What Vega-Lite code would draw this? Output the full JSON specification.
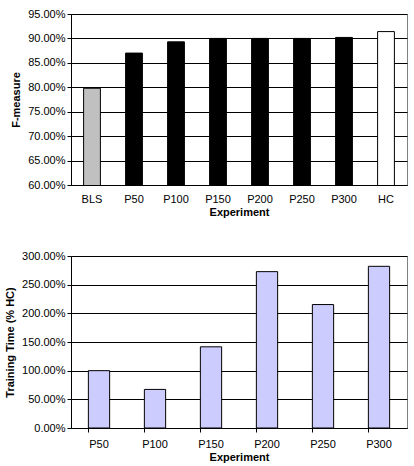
{
  "$schema": "https://vega.github.io/schema/vega-lite/v6.json",
  "padding": {"left": 4, "top": 7, "right": 9, "bottom": 2},
  "spacing": 31,
  "config": {
    "font": "Liberation Sans",
    "view": {"stroke": "#808080", "strokeWidth": 1},
    "axis": {
      "labelFont": "Liberation Sans",
      "titleFont": "Liberation Sans",
      "labelFontSize": 11,
      "titleFontSize": 11,
      "titleFontWeight": "bold",
      "labelColor": "#000000",
      "titleColor": "#000000",
      "domainColor": "#000000",
      "tickColor": "#000000",
      "gridColor": "#000000",
      "gridOpacity": 1,
      "labelOverlap": false
    }
  },
  "vconcat": [
    {
      "width": 336,
      "height": 171,
      "data": {
        "values": [
          {"Experiment": "BLS", "F": 0.798, "Group": "BLS"},
          {"Experiment": "P50", "F": 0.870, "Group": "P"},
          {"Experiment": "P100", "F": 0.893, "Group": "P"},
          {"Experiment": "P150", "F": 0.900, "Group": "P"},
          {"Experiment": "P200", "F": 0.900, "Group": "P"},
          {"Experiment": "P250", "F": 0.900, "Group": "P"},
          {"Experiment": "P300", "F": 0.902, "Group": "P"},
          {"Experiment": "HC", "F": 0.914, "Group": "HC"}
        ]
      },
      "mark": {"type": "bar", "stroke": "#000000", "strokeWidth": 1, "clip": true},
      "encoding": {
        "x": {
          "field": "Experiment", "type": "nominal", "sort": null,
          "scale": {"paddingInner": 0.6, "paddingOuter": 0.3},
          "axis": {"labelAngle": 0, "ticks": false, "title": "Experiment", "titlePadding": 2, "labelPadding": 8}
        },
        "y": {
          "field": "F", "type": "quantitative",
          "scale": {"domain": [0.6, 0.95], "zero": false, "nice": false},
          "axis": {"format": ".2%", "values": [0.6, 0.65, 0.7, 0.75, 0.8, 0.85, 0.9, 0.95], "title": "F-measure", "titlePadding": 6, "tickSize": 4}
        },
        "fill": {
          "field": "Group", "type": "nominal", "legend": null,
          "scale": {"domain": ["BLS", "P", "HC"], "range": ["#c0c0c0", "#000000", "#ffffff"]}
        }
      }
    },
    {
      "width": 336,
      "height": 172,
      "data": {
        "values": [
          {"Experiment": "P50", "T": 1.00},
          {"Experiment": "P100", "T": 0.673},
          {"Experiment": "P150", "T": 1.416},
          {"Experiment": "P200", "T": 2.727},
          {"Experiment": "P250", "T": 2.153},
          {"Experiment": "P300", "T": 2.82}
        ]
      },
      "mark": {"type": "bar", "stroke": "#000000", "strokeWidth": 1, "fill": "#ccccff"},
      "encoding": {
        "x": {
          "field": "Experiment", "type": "nominal", "sort": null,
          "scale": {"paddingInner": 0.62, "paddingOuter": 0.31},
          "axis": {"labelAngle": 0, "bandPosition": 0, "tickSize": 4, "title": "Experiment", "titlePadding": 2, "labelPadding": 6}
        },
        "y": {
          "field": "T", "type": "quantitative",
          "scale": {"domain": [0, 3], "nice": false},
          "axis": {"format": ".2%", "values": [0, 0.5, 1, 1.5, 2, 2.5, 3], "title": "Training Time (% HC)", "titlePadding": 6, "tickSize": 4}
        }
      }
    }
  ]
}
